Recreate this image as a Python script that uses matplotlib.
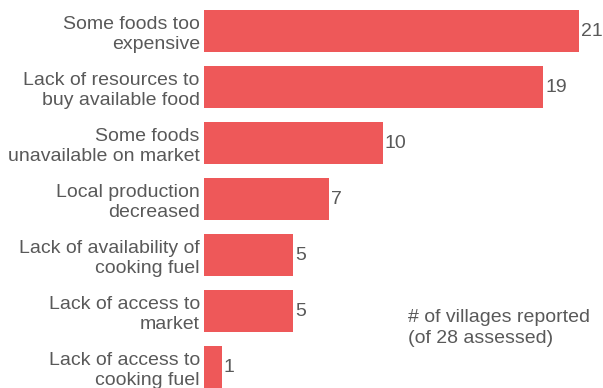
import matplotlib
matplotlib.use('Agg')
import matplotlib.pyplot as plt

plt.rcParams['font.family'] = ['Liberation Sans', 'DejaVu Sans']

causes = ['Some foods too\nexpensive',
          'Lack of resources to\nbuy available food',
          'Some foods\nunavailable on market',
          'Local production\ndecreased',
          'Lack of availability of\ncooking fuel',
          'Lack of access to\nmarket',
          'Lack of access to\ncooking fuel']
villages = [21, 19, 10, 7, 5, 5, 1]

bar_color = '#EE5859'
text_color = '#595959'

fig = plt.figure(figsize=(6.03, 3.88), dpi=100)
ax = fig.add_axes([204 / 603, 0, 393 / 603, 1])

ys = list(range(len(villages)))
ax.barh(ys, villages, height=0.75, color=bar_color)
ax.set_xlim(0, 22)
ax.set_ylim(6.375, -0.554)

for y, v in zip(ys, villages):
    ax.text(v + 0.1, y, str(v), va='center', ha='left', fontsize=14, color=text_color)

ax.set_yticks(ys)
ax.set_yticklabels(causes, fontsize=14, color=text_color, linespacing=1.25)
ax.tick_params(axis='y', length=0, pad=3)
ax.set_xticks([])
for s in ax.spines.values():
    s.set_visible(False)

fig.text(408 / 603, 1 - 328 / 388, '# of villages reported\n(of 28 assessed)',
         fontsize=14, color=text_color, va='center', ha='left', linespacing=1.35)

fig.savefig('out.png', dpi=100)
